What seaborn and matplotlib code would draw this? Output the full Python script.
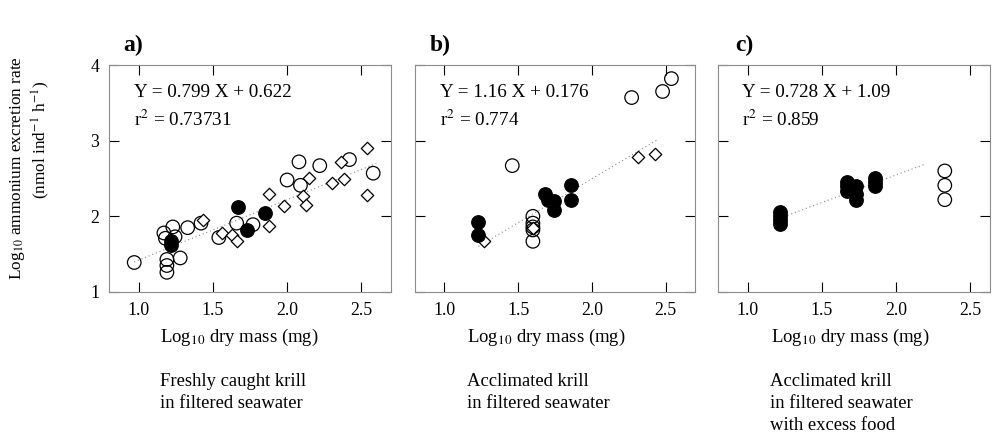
import pandas as pd
import matplotlib
matplotlib.use("Agg")
import matplotlib.pyplot as plt
import seaborn as sns

# panel a) freshly caught krill
a_open_x = [0.97, 1.18, 1.17, 1.23, 1.245, 1.19, 1.19, 1.19, 1.28, 1.33, 1.42, 1.54, 1.66, 1.77, 2.00, 2.08, 2.09, 2.22, 2.42, 2.58]
a_open_y = [1.39, 1.71, 1.78, 1.86, 1.73, 1.43, 1.35, 1.26, 1.45, 1.85, 1.91, 1.72, 1.91, 1.89, 2.48, 2.72, 2.41, 2.67, 2.75, 2.57]
a_filled_x = [1.22, 1.22, 1.67, 1.73, 1.85]
a_filled_y = [1.68, 1.62, 2.12, 1.82, 2.04]
a_diam_x = [1.43, 1.56, 1.63, 1.66, 1.88, 1.88, 1.98, 2.11, 2.13, 2.15, 2.30, 2.38, 2.36, 2.54, 2.54]
a_diam_y = [1.95, 1.78, 1.75, 1.67, 2.29, 1.87, 2.13, 2.27, 2.15, 2.51, 2.44, 2.50, 2.72, 2.90, 2.28]

# panel b) acclimated krill
b_open_x = [1.46, 1.60, 1.60, 1.60, 1.60, 1.60, 2.27, 2.48, 2.54]
b_open_y = [2.67, 2.00, 1.91, 1.86, 1.82, 1.67, 3.57, 3.65, 3.82]
b_filled_x = [1.23, 1.23, 1.68, 1.70, 1.74, 1.74, 1.86, 1.86]
b_filled_y = [1.92, 1.75, 2.29, 2.22, 2.20, 2.08, 2.41, 2.22]
b_diam_x = [1.27, 1.60, 2.31, 2.43]
b_diam_y = [1.67, 1.85, 2.79, 2.83]

# panel c) acclimated krill with excess food
c_open_x = [2.33, 2.33, 2.33]
c_open_y = [2.60, 2.41, 2.22]
c_filled_x = [1.22, 1.22, 1.22, 1.22, 1.67, 1.67, 1.67, 1.73, 1.73, 1.73, 1.86, 1.86, 1.86]
c_filled_y = [2.06, 2.00, 1.95, 1.90, 2.46, 2.40, 2.34, 2.40, 2.30, 2.22, 2.51, 2.45, 2.40]
c_diam_x = []
c_diam_y = []

# regression fits (slope, intercept, r2, x range of the drawn line)
slopes = [0.799, 1.16, 0.728]
intercepts = [0.622, 0.176, 1.09]
r2_labels = ["0.73731", "0.774", "0.859"]
eq_labels = ["Y = 0.799 X + 0.622", "Y = 1.16 X + 0.176", "Y = 0.728 X + 1.09"]
line_x = [[0.97, 2.6], [1.23, 2.45], [1.22, 2.2]]

panel_letters = ["a)", "b)", "c)"]
captions = ["Freshly caught krill\nin filtered seawater",
            "Acclimated krill\nin filtered seawater",
            "Acclimated krill\nin filtered seawater\nwith excess food"]
xticks = [1.0, 1.5, 2.0, 2.5]
yticks = [1, 2, 3, 4]


def panel_frame(op_x, op_y, fi_x, fi_y, di_x, di_y):
    rows = []
    rows += [(x, y, "open") for x, y in zip(op_x, op_y)]
    rows += [(x, y, "diamond") for x, y in zip(di_x, di_y)]
    rows += [(x, y, "filled") for x, y in zip(fi_x, fi_y)]
    return pd.DataFrame(rows, columns=["x", "y", "kind"])


frames = [
    panel_frame(a_open_x, a_open_y, a_filled_x, a_filled_y, a_diam_x, a_diam_y),
    panel_frame(b_open_x, b_open_y, b_filled_x, b_filled_y, b_diam_x, b_diam_y),
    panel_frame(c_open_x, c_open_y, c_filled_x, c_filled_y, c_diam_x, c_diam_y),
]

sns.set_style("ticks")
plt.rcParams["font.family"] = ["Liberation Serif", "DejaVu Serif"]
plt.rcParams["mathtext.fontset"] = "stix"
for key in ["text.color", "axes.labelcolor", "xtick.color", "ytick.color"]:
    plt.rcParams[key] = "black"

fig = plt.figure(figsize=(9.95, 4.46), dpi=100)
W, H = 995, 446
# axes boxes in pixels: left, right, top, bottom
boxes = [(109, 391, 65, 292), (415, 695, 65, 292), (718, 990, 65, 292)]
xlims = [(0.8, 2.7), (0.8, 2.7), (0.8, 2.635)]
caption_x = [160, 467, 770]
letter_x = [123, 430, 735]
xlabel_cx = [239, 546, 850]

for i, df in enumerate(frames):
    l, r, t, b = boxes[i]
    ax = fig.add_axes([l / W, 1 - b / H, (r - l) / W, (b - t) / H])

    xs = line_x[i]
    ax.plot(xs, [slopes[i] * x + intercepts[i] for x in xs],
            color="#8a8a8a", lw=0.8, ls=(0, (1, 2.5)), zorder=1)

    sub = df[df["kind"] == "open"]
    if len(sub):
        sns.scatterplot(data=sub, x="x", y="y", ax=ax, marker="o", s=95,
                        facecolor="none", edgecolor="black", linewidth=0.9, zorder=2)
    sub = df[df["kind"] == "diamond"]
    if len(sub):
        sns.scatterplot(data=sub, x="x", y="y", ax=ax, marker="D", s=40,
                        facecolor="white", edgecolor="black", linewidth=0.9, zorder=3)
    sub = df[df["kind"] == "filled"]
    if len(sub):
        sns.scatterplot(data=sub, x="x", y="y", ax=ax, marker="o", s=95,
                        color="black", edgecolor="black", linewidth=0.9, zorder=4)

    ax.set_xlim(*xlims[i])
    ax.set_ylim(1, 4)
    ax.set_xticks(xticks)
    ax.set_yticks(yticks)
    ax.set_xticklabels([f"{v:.1f}" for v in xticks])
    if i == 0:
        ax.set_yticklabels([str(v) for v in yticks])
    else:
        ax.set_yticklabels([])
    ax.tick_params(direction="in", top=True, right=True, length=7, width=0.8,
                   pad=7, labelsize=12.8, color="black")
    for sp in ax.spines.values():
        sp.set_color("#8c8c8c")
        sp.set_linewidth(0.8)
    ax.set_ylabel("")
    ax.set_xlabel("")

    fig.text(xlabel_cx[i] / W, 1 - 337 / H, "Log$_{10}$ dry mass (mg)",
             fontsize=13.5, va="center", ha="center")

    ax.text(0.088, 0.877, eq_labels[i], transform=ax.transAxes,
            fontsize=13.8, va="center", ha="left")
    ax.text(0.088, 0.758, "r$^2$ = " + r2_labels[i], transform=ax.transAxes,
            fontsize=13.8, va="center", ha="left")

    fig.text(letter_x[i] / W, 1 - 45 / H, panel_letters[i], fontsize=17,
             fontweight="bold", va="center", ha="left")
    fig.text(caption_x[i] / W, 1 - 373 / H, captions[i], fontsize=13.4,
             va="top", ha="left", linespacing=1.38)

fig.text(18 / W, 1 - 168 / H, "Log$_{10}$ ammonium excretion rate",
         rotation=90, fontsize=12.4, va="center", ha="center")
fig.text(41 / W, 1 - 140 / H, "(nmol ind$^{-1}$ h$^{-1}$)",
         rotation=90, fontsize=12.4, va="center", ha="center")

fig.savefig("out.png", dpi=100)
